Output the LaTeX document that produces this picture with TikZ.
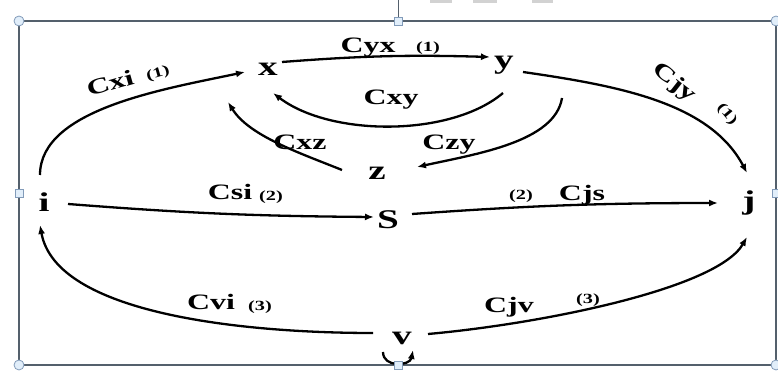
\documentclass[tikz,border=0pt]{standalone}
\usepackage{fontspec}
\setmainfont{Liberation Serif}[FakeStretch=1.45]
\usetikzlibrary{arrows.meta}
\definecolor{frameline}{RGB}{84,96,108}
\definecolor{handleline}{RGB}{130,155,185}
\definecolor{handlefill}{RGB}{225,238,250}

\begin{document}
\begin{tikzpicture}[x=1pt,y=1pt,
    vert/.style={font=\fontsize{27}{29}\selectfont\bfseries, inner sep=2pt},
    lab/.style={font=\fontsize{22}{24}\selectfont\bfseries, anchor=base, inner sep=0pt},
    num/.style={font=\fontsize{14}{16}\selectfont\bfseries, anchor=base, inner sep=0pt},
    arc/.style={line width=2.3pt, -{Latex[length=9pt,width=7pt]}},
    handle/.style={draw=handleline, fill=handlefill, line width=0.8pt}]
\useasboundingbox (0,0) rectangle (778,371);
        \draw[frameline,line width=2.5pt] (19,6) rectangle (776,350);
        \draw[frameline,line width=0.8pt] (398,350) -- (398,371);
        \fill[gray!35] (430,368) rectangle (452,371);
        \fill[gray!35] (473,368) rectangle (497,371);
        \fill[gray!35] (532,368) rectangle (553,371);

        \node[vert] (i) at (44,169) {i};
        \node[vert] (x) at (268,302) {x};
        \node[vert] (y) at (504,306) {y};
        \node[vert] (z) at (377,198) {z};
        \node[vert] (s) at (388,151) {S};
        \node[vert] (j) at (749,168) {j};
        \node[vert] (v) at (402,33) {v};

        \draw[arc] ([shift={(-4,27)}]i.center) .. controls +(0,66) and +(-80,-17) .. ([shift={(-23,-3)}]x.center);
        \draw[arc] ([shift={(14,7)}]x.center) to[bend left=3] ([shift={(-14,8)}]y.center);
        \draw[arc] ([shift={(-1,-28)}]y.center) .. controls +(-52,-44) and +(58,-44) .. ([shift={(5,-24)}]x.center);
        \draw[arc] ([shift={(58,-33)}]y.center) .. controls +(-7,-44) and +(59,13) .. ([shift={(40,6)}]z.center);
        \draw[arc] ([shift={(-35,3)}]z.center) .. controls +(-42,17) and +(21,-34) .. ([shift={(-40,-33)}]x.center);
        \draw[arc] ([shift={(19,-7)}]y.center) .. controls +(97,-14) and +(-37,70) .. ([shift={(-2,30)}]j.center);
        \draw[arc] ([shift={(24,-2)}]i.center) to[bend right=2] ([shift={(-14,3)}]s.center);
        \draw[arc] ([shift={(24,6)}]s.center) to[bend left=2] ([shift={(-31,0)}]j.center);
        \draw[arc] ([shift={(-29,5)}]v.center) .. controls +(-130,0) and +(16,-89) .. ([shift={(-4,-23)}]i.center);
        \draw[arc] ([shift={(26,4)}]v.center) .. controls +(112,10) and +(-30,-52) .. ([shift={(-2,-34)}]j.center);
        \draw[arc] ([shift={(-19,-14)}]v.center) .. controls +(0,-16) and +(-3,-16) .. ([shift={(11,-12)}]v.center);

        \node[lab,anchor=center,rotate=16] (cxi) at (110,288) {Cxi};
        \node[num,anchor=center,rotate=16] (cxi1) at (158,297) {(1)};
        \node[lab] (cyx) at (368,318) {Cyx};
        \node[num] (cyx1) at (428,319) {(1)};
        \node[lab] (cxy) at (391,266) {Cxy};
        \node[lab] (cxz) at (300,221) {Cxz};
        \node[lab] (czy) at (449,221) {Czy};
        \node[lab,anchor=center,rotate=-38] (cjy) at (674,288) {Cjy};
        \node[num,anchor=center,rotate=-50] (cjy1) at (727,257) {(1)};
        \node[lab] (csi) at (230,171) {Csi};
        \node[num] (csi2) at (271,170) {(2)};
        \node[num] (cjs2) at (521,171) {(2)};
        \node[lab] (cjs) at (582,170) {Cjs};
        \node[lab] (cvi) at (211,61) {Cvi};
        \node[num] (cvi3) at (260,60) {(3)};
        \node[lab] (cjv) at (509,58) {Cjv};
        \node[num] (cjv3) at (588,67) {(3)};

        \foreach \hx/\hy in {19/6,19/350,776/6,776/350}
            \draw[handle] (\hx,\hy) circle (5);
        \foreach \hx/\hy in {398/6,398/350,19/178,776/178}
            \draw[handle] (\hx-4,\hy-4) rectangle ++(8,8);
\end{tikzpicture}
\end{document}
